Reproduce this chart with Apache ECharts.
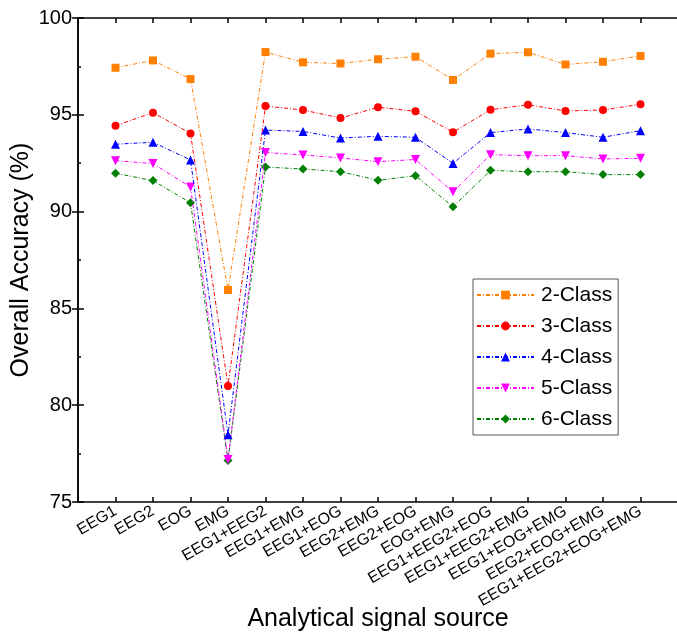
<!DOCTYPE html>
<html>
<head>
<meta charset="utf-8">
<script src="https://cdn.jsdelivr.net/npm/echarts@6/dist/echarts.min.js"></script>
<style>html,body{margin:0;padding:0;background:#fff;}#c{width:677px;height:632px;}</style>
</head>
<body>
<div id="c"></div>
<script>
var categories = ['EEG1','EEG2','EOG','EMG','EEG1+EEG2','EEG1+EMG','EEG1+EOG','EEG2+EMG','EEG2+EOG','EOG+EMG','EEG1+EEG2+EOG','EEG1+EEG2+EMG','EEG1+EOG+EMG','EEG2+EOG+EMG','EEG1+EEG2+EOG+EMG'];
var class2 = [97.43, 97.81, 96.85, 85.95, 98.24, 97.71, 97.65, 97.87, 98.0, 96.8, 98.16, 98.23, 97.6, 97.74, 98.04];
var class3 = [94.44, 95.11, 94.04, 80.99, 95.45, 95.25, 94.83, 95.39, 95.18, 94.1, 95.26, 95.52, 95.2, 95.25, 95.54];
var class4 = [93.48, 93.58, 92.67, 78.48, 94.21, 94.14, 93.8, 93.89, 93.84, 92.49, 94.08, 94.27, 94.08, 93.84, 94.18];
var class5 = [92.63, 92.48, 91.27, 77.2, 93.05, 92.93, 92.77, 92.58, 92.69, 91.02, 92.94, 92.89, 92.89, 92.72, 92.75];
var class6 = [91.98, 91.6, 90.46, 77.15, 92.3, 92.2, 92.06, 91.62, 91.85, 90.25, 92.13, 92.06, 92.06, 91.91, 91.91];
var seriesNames = ['2-Class','3-Class','4-Class','5-Class','6-Class'];
var yTicks = [75, 80, 85, 90, 95, 100];

var FONT = 'Liberation Sans, Arial, sans-serif';
var chart = echarts.init(document.getElementById('c'), null, {renderer: 'canvas'});
function pairs(arr){ return arr.map(function(v,i){ return [i+1, v]; }); }
var colors = ['#FF8000','#FF0000','#0000FF','#FF00FF','#008000'];
var symbols = ['rect','circle','triangle','triangle','diamond'];
var sizes = [8, 8, 9, 9, 9];
var rot = [0, 0, 0, 180, 0];
var allData = [class2, class3, class4, class5, class6];

var axisLineStyle = {color: '#000', width: 1.5};
var series = allData.map(function(d, k){
  return {
    name: seriesNames[k], type: 'line', xAxisIndex: 0, yAxisIndex: 0,
    data: pairs(d), symbol: symbols[k], symbolSize: sizes[k], symbolRotate: rot[k],
    itemStyle: {color: colors[k]},
    lineStyle: {color: colors[k], width: 1, type: [4, 2, 1, 2]},
    z: 10 - k
  };
});

chart.setOption({
  animation: false,
  backgroundColor: '#fff',
  grid: {left: 78, top: 18, width: 600, height: 484, containLabel: false, outerBoundsMode: 'none'},
  xAxis: [{
    type: 'value', min: 0, max: 16, interval: 1, position: 'bottom',
    axisLine: {show: true, lineStyle: axisLineStyle},
    axisTick: {show: true, inside: true, length: 5, lineStyle: {color: '#000', width: 1.5}},
    splitLine: {show: false},
    axisLabel: {
      rotate: 30, margin: 8, fontSize: 16, fontFamily: FONT, color: '#000',
      formatter: function(v){ return (v >= 1 && v <= categories.length) ? categories[v-1] : ''; }
    },
    name: 'Analytical signal source', nameLocation: 'middle', nameGap: 105, nameMoveOverlap: false,
    nameTextStyle: {fontSize: 25, fontFamily: FONT, color: '#000'}
  }, {
    type: 'value', min: 0, max: 16, interval: 1, position: 'top',
    axisLine: {show: true, lineStyle: axisLineStyle},
    axisTick: {show: true, inside: true, length: 5, lineStyle: {color: '#000', width: 1.5}},
    splitLine: {show: false}, axisLabel: {show: false}
  }],
  yAxis: [{
    type: 'value', min: yTicks[0], max: yTicks[yTicks.length-1], interval: 5, position: 'left',
    axisLine: {show: true, lineStyle: axisLineStyle},
    axisTick: {show: true, inside: true, length: 6, lineStyle: {color: '#000', width: 1.5}},
    minorTick: {show: true, splitNumber: 2, length: 3, lineStyle: {color: '#000', width: 1.5}},
    splitLine: {show: false},
    axisLabel: {margin: 6, fontSize: 20, fontFamily: FONT, color: '#000'},
    name: 'Overall Accuracy (%)', nameLocation: 'middle', nameGap: 44, nameRotate: 90, nameMoveOverlap: false,
    nameTextStyle: {fontSize: 25, fontFamily: FONT, color: '#000'}
  }, {
    type: 'value', min: yTicks[0], max: yTicks[yTicks.length-1], interval: 5, position: 'right',
    axisLine: {show: true, lineStyle: axisLineStyle},
    axisTick: {show: true, inside: true, length: 6, lineStyle: {color: '#000', width: 1.5}},
    splitLine: {show: false}, axisLabel: {show: false}
  }],
  legend: {
    data: seriesNames, orient: 'vertical', left: 473, top: 279,
    padding: [5, 6, 5, 3], itemGap: 9, itemWidth: 57, itemHeight: 11,
    borderColor: '#555', borderWidth: 1, backgroundColor: '#fff',
    textStyle: {fontSize: 21, lineHeight: 22, fontFamily: FONT, color: '#000', padding: [0,0,0,2]}
  },
  series: series
});
</script>
</body>
</html>
